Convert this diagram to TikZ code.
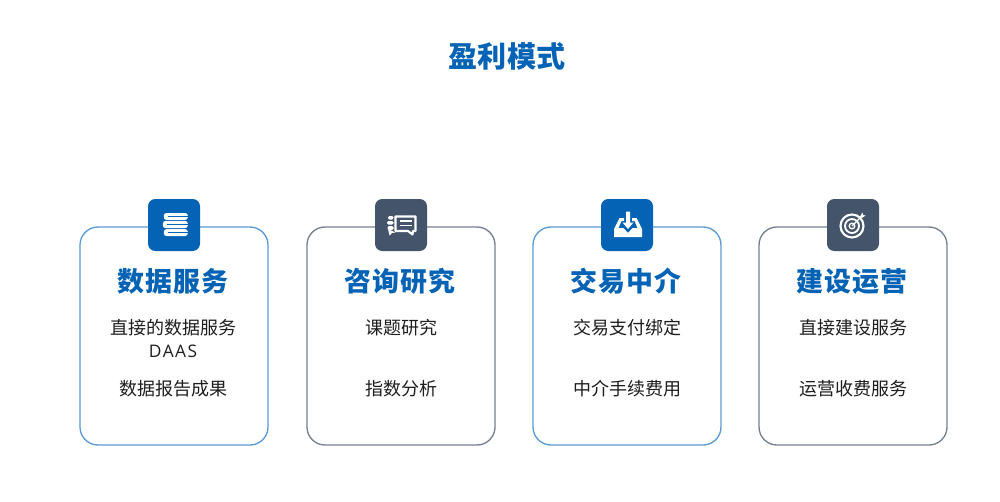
\documentclass[tikz,border=0pt]{standalone}
\usepackage{fontspec}
\setmainfont{Noto Sans CJK SC}
\newfontfamily\latinfont{Open Sans}
\definecolor{brandblue}{HTML}{0563B5}
\definecolor{slatebox}{HTML}{44546A}
\definecolor{lineblue}{HTML}{5B9BD5}
\definecolor{lineslate}{HTML}{75808F}
\definecolor{bodyink}{HTML}{1E1E1E}
\tikzset{
  x=0.75pt,y=-0.75pt,
  card/.style={draw=#1,line width=1pt,rounded corners=13.5pt,fill=white},
  iconbox/.style={fill=#1,rounded corners=5.5pt},
  headtext/.style={font=\fontsize{20.2pt}{24pt}\selectfont\bfseries,text=brandblue,inner sep=0pt},
  bodytext/.style={font=\fontsize{13.5pt}{17pt}\selectfont,text=bodyink,inner sep=0pt},
  ico/.style={fill=white,draw=none},
  icoline/.style={draw=white,line width=1.1pt,fill=none},
}
\begin{document}
\begin{tikzpicture}
\useasboundingbox (0,0) rectangle (1000,501);
\fill[white] (0,0) rectangle (1000,501);
\node[inner sep=0pt,font=\fontsize{21.8pt}{26pt}\selectfont\bfseries,text=brandblue] (title) at (507,56) {盈利模式};

% cards
\draw[card=lineblue]  (80,227) rectangle (268,445);
\draw[card=lineslate] (307,227) rectangle (495,445);
\draw[card=lineblue]  (533,227) rectangle (721,445);
\draw[card=lineslate] (759,227) rectangle (947,445);

% icon boxes
\fill[iconbox=brandblue] (148,199) rectangle (200,251);
\fill[iconbox=slatebox]  (375,199) rectangle (427,251);
\fill[iconbox=brandblue] (601,199) rectangle (653,251);
\fill[iconbox=slatebox]  (827,199) rectangle (879,251);

% books icon
\begin{scope}[shift={(175.3,224.5)}]
  \fill[ico,rounded corners=2pt] (-11.5,-11.5) rectangle (12.5,-4.6);
  \fill[ico,rounded corners=2pt] (-12.5,-3.6) rectangle (12.5,3.6);
  \fill[ico,rounded corners=2pt] (-11.5,4.6) rectangle (12.5,11.5);
  \fill[brandblue] (-7,-8.6) rectangle (13,-7.4);
  \fill[brandblue] (-8,-0.6) rectangle (13,0.6);
  \fill[brandblue] (-7,7.4) rectangle (13,8.6);
\end{scope}

% chat icon
\begin{scope}[shift={(401,225)}]
  \draw[icoline,line width=1.6pt,line join=round] (-5.5,-8.5) -- (14.5,-8.5) -- (14.5,6) -- (12,6) -- (11.5,9.5) -- (7,6) -- (-5.5,6) -- cycle;
  \fill[ico] (-1,-4.8) rectangle (11,-3);
  \fill[ico] (-1,-0.5) rectangle (11,1.3);
  \fill[ico,rounded corners=1pt] (-13,-9) rectangle (-7.5,-5.5);
  \fill[ico,rounded corners=1pt] (-14,-4) rectangle (-7.5,-0.5);
  \fill[ico,rounded corners=1pt] (-13.5,1) rectangle (-7.5,5);
  \fill[ico] (-13,4) -- (-5.5,7.5) -- (-9,8) -- (-11.5,10.5) -- cycle;
\end{scope}

% inbox icon
\begin{scope}[shift={(628,225)}]
  \fill[ico] (-14,4) -- (-8.5,-7) -- (-4,-7) -- (-4,-4) -- (-6.5,-4) -- (-9.5,3) -- (-4.5,3) -- (0,8) -- (4.5,3) -- (9.5,3) -- (6.5,-4) -- (4,-4) -- (4,-7) -- (8.5,-7) -- (14,4) -- (14,12) -- (-14,12) -- cycle;
  \fill[ico] (-2,-13.5) -- (2,-13.5) -- (2,-2.5) -- (5.5,-2.5) -- (0,4) -- (-5.5,-2.5) -- (-2,-2.5) -- cycle;
\end{scope}

% target icon
\begin{scope}[shift={(852,226)}]
  \draw[icoline,line width=1.6pt] (0,0) circle (11.5);
  \draw[icoline,line width=1.4pt] (0,0) circle (7);
  \draw[icoline,line width=1pt] (0,0) circle (2.8);
  \draw[icoline,line width=1pt] (0,0) -- (10.5,-10.5);
  \fill[ico] (8,-9.5) -- (10.5,-13.5) -- (11.2,-11) -- (13.5,-10.5) -- (10,-8) -- cycle;
\end{scope}

% headings
\node[headtext] (h1) at (173,281) {数\kern0.8pt 据\kern0.8pt 服\kern0.8pt 务};
\node[headtext] (h2) at (400,281) {咨\kern0.8pt 询\kern0.8pt 研\kern0.8pt 究};
\node[headtext] (h3) at (626,281) {交\kern0.8pt 易\kern0.8pt 中\kern0.8pt 介};
\node[headtext] (h4) at (852,281) {建\kern0.8pt 设\kern0.8pt 运\kern0.8pt 营};

% body
\node[bodytext] (a1) at (173,328) {直接的数据服务};
\node[bodytext,font=\fontsize{13pt}{17pt}\selectfont\latinfont] (a2) at (173,351) {D\kern1pt A\kern1pt A\kern1pt S};
\node[bodytext] (a3) at (173,389) {数据报告成果};
\node[bodytext] (b1) at (401,328) {课题研究};
\node[bodytext] (b2) at (401,389) {指数分析};
\node[bodytext] (c1) at (627,328) {交易支付绑定};
\node[bodytext] (c2) at (627,389) {中介手续费用};
\node[bodytext] (d1) at (853,328) {直接建设服务};
\node[bodytext] (d2) at (853,389) {运营收费服务};
\end{tikzpicture}
\end{document}
